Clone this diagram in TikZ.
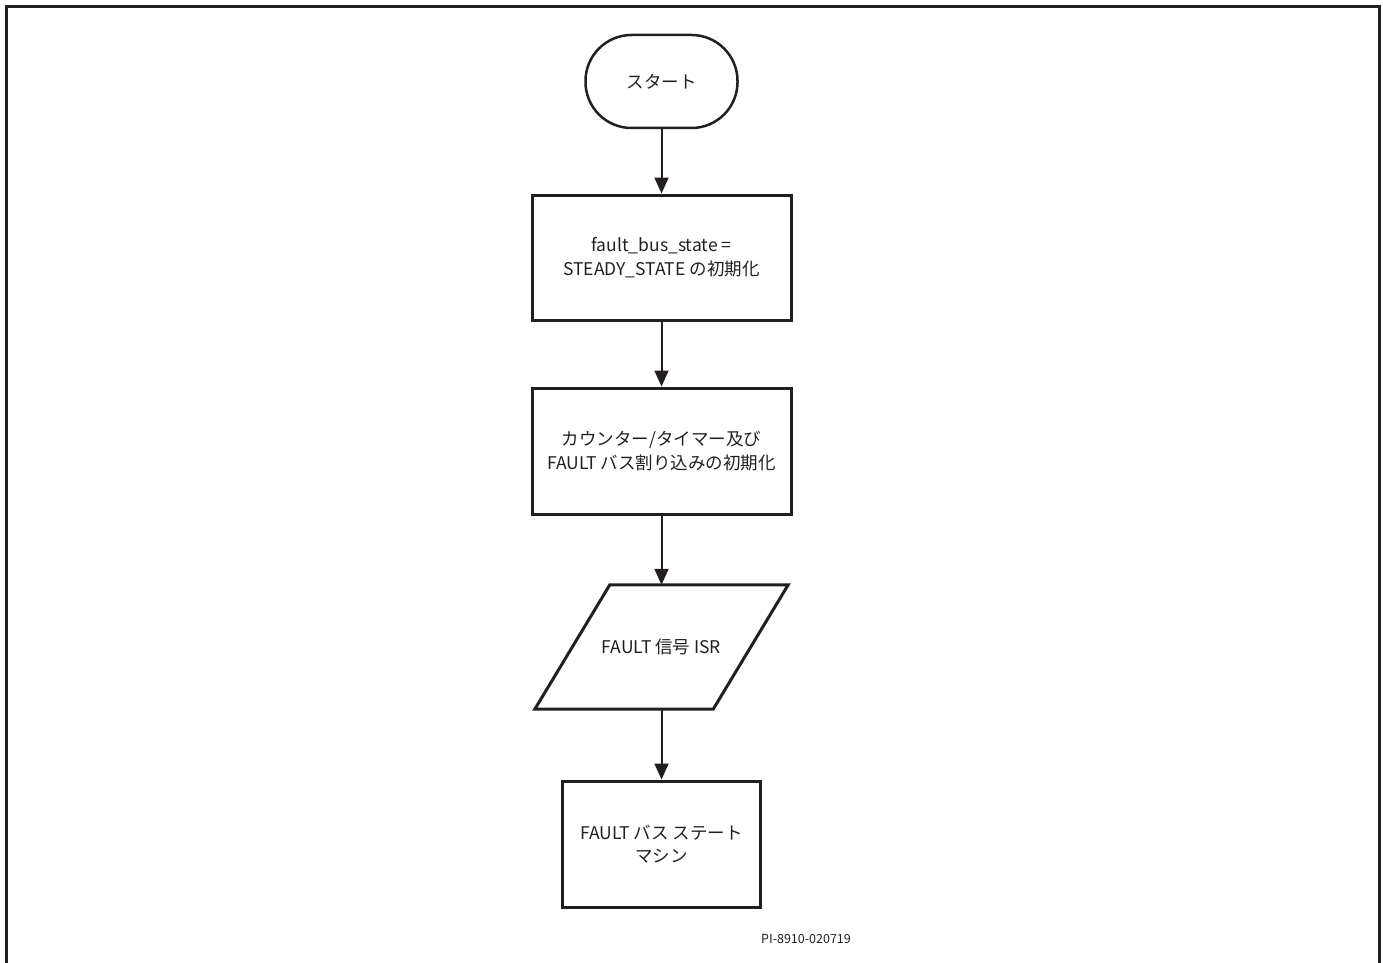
\documentclass[tikz,border=0pt]{standalone}
\usepackage{fontspec}
\setmainfont{Noto Sans CJK JP}
\usetikzlibrary{arrows.meta,calc}
\definecolor{ink}{HTML}{231F20}
\begin{document}
\begin{tikzpicture}[x=1pt,y=-1pt,
  every node/.style={text=ink},
  txt/.style={font=\fontsize{17.5}{23.5}\selectfont, align=center},
  procbox/.style={txt, draw=ink, line width=3pt, minimum width=259pt, minimum height=125pt, inner sep=0pt},
  flow/.style={draw=ink, line width=2pt, -{Triangle[length=16pt,width=14pt]}}]
  \useasboundingbox (0,0) rectangle (1383,963);
  % outer frame, open at the bottom
  \draw[ink, line width=2.5pt] (6.5,965) -- (6.5,6.5) -- (1379.5,6.5) -- (1379.5,965);

  \node[txt, draw=ink, line width=2.5pt, rounded corners=46pt, minimum width=152pt, minimum height=93pt] (start) at (661.5,81.5) {スタート};
  \node[procbox] (init) at (661.5,257.5) {fault\_bus\_state =\\STEADY\_STATE の初期化};
  \node[procbox, minimum height=126pt] (timer) at (661.5,451) {カウンター/タイマー及び\\FAULT バス割り込みの初期化};
  \node[txt, minimum width=178pt, minimum height=124pt, inner sep=0pt] (isr) at (661.5,647) {FAULT 信号 ISR};
  \draw[ink, line width=3pt, line join=miter]
    ($(isr.south west)+(-37.5,0)$) -- ($(isr.north west)+(37.5,0)$) --
    ($(isr.north east)+(37.5,0)$) -- ($(isr.south east)+(-37.5,0)$) -- cycle;
  \node[procbox, minimum width=198pt, minimum height=126pt] (fsm) at (661.5,844) {FAULT バス ステート\\マシン};
  \node[font=\fontsize{12.5}{15}\selectfont] (code) at (806,939) {PI-8910-020719};

  \draw[flow] (start) -- (init);
  \draw[flow] (init) -- (timer);
  \draw[flow] (timer) -- (isr);
  \draw[flow] (isr) -- (fsm);
\end{tikzpicture}
\end{document}
